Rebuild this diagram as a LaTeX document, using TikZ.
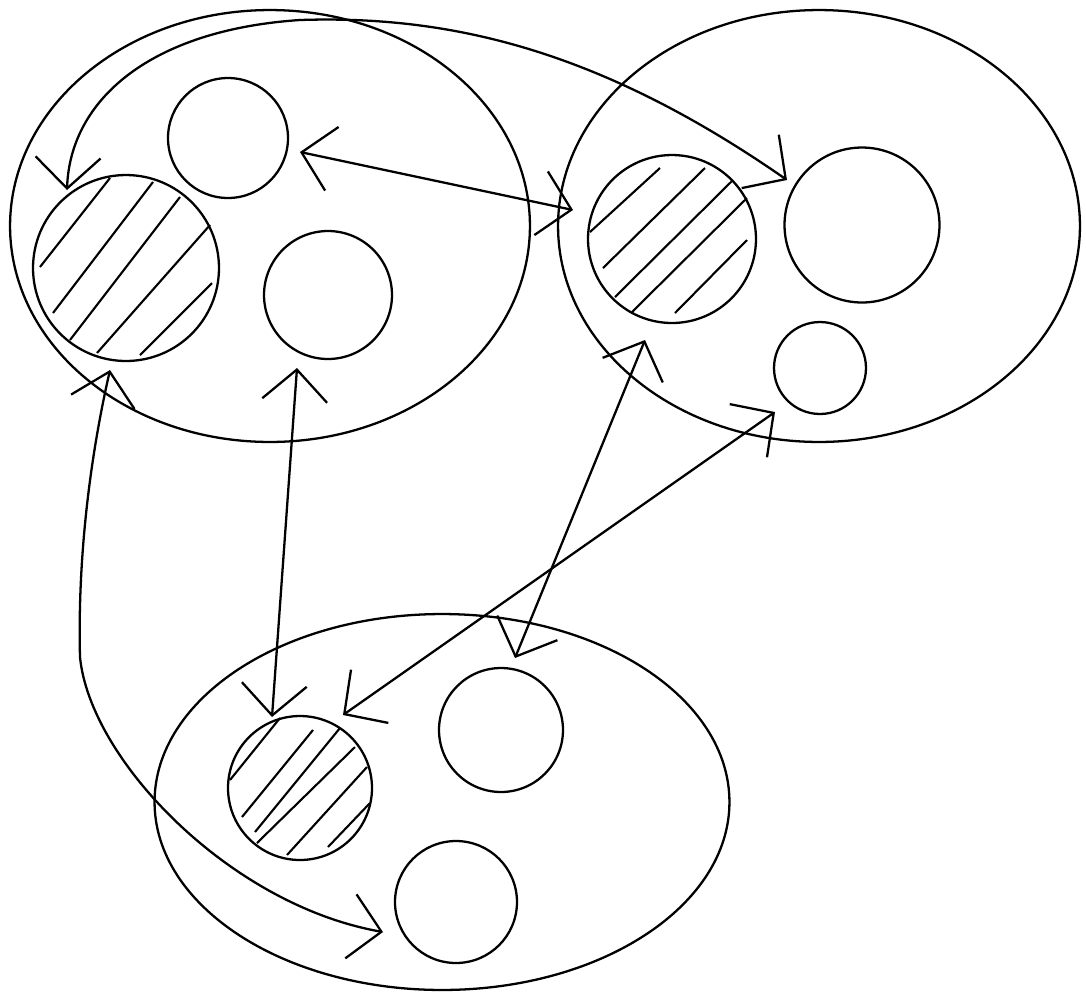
\documentclass[tikz,border=0pt]{standalone}
\usetikzlibrary{arrows.meta,shapes.geometric}
\begin{document}
\begin{tikzpicture}[x=0.02cm,y=-0.02cm,line width=1.3pt,
  group/.style 2 args={ellipse,draw,inner sep=0pt,minimum width=#1,minimum height=#2},
  cell/.style={circle,draw,inner sep=0pt,minimum size=#1},
  hatch/.style={line width=1.2pt},
  barb/.tip={Straight Barb[length=6.2mm,width=13mm]},
  conn/.style={barb-barb}]
\useasboundingbox (0,0) rectangle (1086,992);
% groups
\node[group={10.4cm}{8.64cm}] (E1) at (270,226) {};
\node[group={10.44cm}{8.64cm}] (E2) at (819,226) {};
\node[group={11.5cm}{7.52cm}] (E3) at (442,802) {};
% cells
\node[cell=2.4cm] (C1) at (228,138) {};
\node[cell=3.72cm] (H1) at (126,268) {};
\node[cell=2.56cm] (C2) at (328,295) {};
\node[cell=3.36cm] (H2) at (672,239) {};
\node[cell=3.1cm] (C3) at (862,225) {};
\node[cell=1.84cm] (C4) at (820,368) {};
\node[cell=2.88cm] (H3) at (300,788) {};
\node[cell=2.48cm] (C5) at (501,730) {};
\node[cell=2.44cm] (C6) at (456,902) {};
% hatching
\begin{scope}[hatch]
\draw (40,267)--(110,178) (53,313)--(153,182) (70,340)--(180,197)
      (97,353)--(210,225) (140,355)--(212,283);
\draw (590,232)--(660,168) (603,268)--(705,168) (615,297)--(733,180)
      (632,312)--(747,198) (675,313)--(747,240);
\draw (230,780)--(280,718) (242,817)--(313,730) (255,832)--(340,728)
      (257,843)--(355,747) (287,855)--(367,767) (328,847)--(370,803);
\end{scope}
% connector ends
\coordinate (a1s) at (300,152); \coordinate (a1e) at (573,210);
\coordinate (a2s) at (67,190);  \coordinate (a2e) at (787,180);
\coordinate (a3s) at (297,368); \coordinate (a3e) at (272,717);
\coordinate (a4s) at (775,412); \coordinate (a4e) at (343,715);
\coordinate (a5s) at (645,340); \coordinate (a5e) at (515,658);
\coordinate (a6s) at (110,370); \coordinate (a6e) at (383,932);
% connectors
\draw[conn] (a1s) -- (a1e);
\draw[conn] (a2s) .. controls (70,100) and (150,30) .. (300,20)
  .. controls (450,15) and (600,50) .. (a2e);
\draw[conn] (a3s) -- (a3e);
\draw[conn] (a4s) -- (a4e);
\draw[conn] (a5s) -- (a5e);
\draw[conn] (a6s) .. controls (85,480) and (78,580) .. (80,657)
  .. controls (90,760) and (230,905) .. (a6e);
\end{tikzpicture}
\end{document}
